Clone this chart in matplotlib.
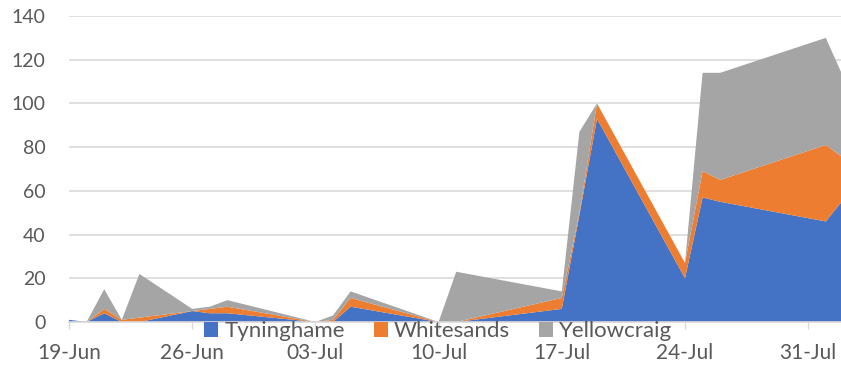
import matplotlib
matplotlib.use("Agg")
import matplotlib.pyplot as plt
import matplotlib.dates as mdates
import pandas as pd

dates = ["2023-06-19", "2023-06-20", "2023-06-21", "2023-06-22", "2023-06-23",
         "2023-06-26", "2023-06-27", "2023-06-28", "2023-07-03", "2023-07-04",
         "2023-07-05", "2023-07-10", "2023-07-11", "2023-07-17", "2023-07-18",
         "2023-07-19", "2023-07-24", "2023-07-25", "2023-07-26", "2023-08-01",
         "2023-08-02"]
tyninghame = [1, 0, 4, 0, 0, 5, 4, 4, 0, 0, 7, 0, 0, 6, 49, 93, 20, 57, 55, 46, 56]
whitesands = [0, 0, 2, 1, 2, 0, 2, 3, 0, 1, 4, 0, 0, 5, 1, 7, 7, 12, 10, 35, 19]
yellowcraig = [0, 0, 9, 0, 20, 1, 1, 3, 0, 2, 3, 0, 23, 3, 37, 0, 0, 45, 49, 49, 37]
series_names = ["Tyninghame", "Whitesands", "Yellowcraig"]
colors = ["#4472C4", "#ED7D31", "#A5A5A5"]
y_ticks = [0, 20, 40, 60, 80, 100, 120, 140]

plt.rcParams['font.family'] = ['Lato', 'DejaVu Sans']
text_color = "#595959"

x = pd.to_datetime(dates)
W, H = 841, 367
fig = plt.figure(figsize=(W / 100, H / 100), dpi=100)
ax = fig.add_axes([69 / W, 1 - 322 / H, (W - 69) / W, (322 - 16) / H])

ax.stackplot(x, tyninghame, whitesands, yellowcraig, colors=colors,
             labels=series_names, linewidth=0, zorder=3)

start = pd.Timestamp("2023-06-19")
ax.set_xlim(mdates.date2num(start), mdates.date2num(start) + (W - 69) / 17.6)
ax.set_ylim(0, 140)
ax.set_yticks(y_ticks)
ax.yaxis.grid(True, color="#D9D9D9", linewidth=1.2, zorder=0)
ax.set_axisbelow(True)

ticks = pd.date_range(start, periods=7, freq="7D")
ax.set_xticks(ticks)
ax.xaxis.set_major_formatter(mdates.DateFormatter("%d-%b"))

for s in ["top", "right", "left"]:
    ax.spines[s].set_visible(False)
ax.spines["bottom"].set_color("#D9D9D9")
ax.spines["bottom"].set_linewidth(1.2)
ax.spines["bottom"].set_zorder(4)

ax.tick_params(axis="y", length=0, pad=17, labelsize=14, labelcolor=text_color)
ax.tick_params(axis="x", length=5, width=1, color="#D9D9D9", direction="out",
               pad=10, labelsize=15, labelcolor=text_color)

leg = ax.legend(loc="center", bbox_to_anchor=(0.478, -0.03), ncol=3, frameon=False,
                fontsize=16, handlelength=0.63, handleheight=0.63, handletextpad=0.27,
                columnspacing=1.3, borderaxespad=0, borderpad=0, labelcolor=text_color)

fig.savefig("out.png", dpi=100)
